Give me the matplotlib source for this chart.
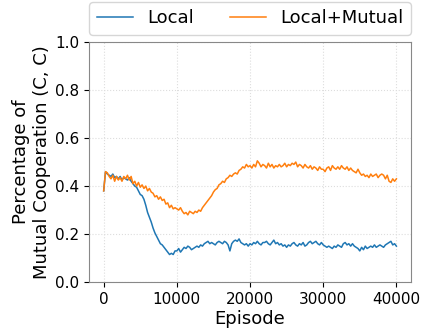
import numpy as np
import matplotlib
matplotlib.use("Agg")
import matplotlib.pyplot as plt

EPISODES = np.arange(0, 40001, 250)

LOCAL = [
    0.38, 0.46, 0.45, 0.445, 0.44, 0.45, 0.435, 0.44,
    0.43, 0.44, 0.425, 0.435, 0.43, 0.425, 0.435, 0.42,
    0.41, 0.40, 0.395, 0.38, 0.365, 0.36, 0.345, 0.32,
    0.29, 0.27, 0.25, 0.225, 0.205, 0.19, 0.175, 0.16,
    0.155, 0.145, 0.135, 0.125, 0.115, 0.12, 0.115, 0.13,
    0.13, 0.14, 0.125, 0.135, 0.145, 0.14, 0.15, 0.145,
    0.135, 0.14, 0.145, 0.15, 0.145, 0.155, 0.15, 0.16,
    0.165, 0.17, 0.16, 0.165, 0.16, 0.155, 0.165, 0.17,
    0.165, 0.16, 0.17, 0.165, 0.155, 0.13, 0.16, 0.17,
    0.175, 0.17, 0.18, 0.165, 0.16, 0.155, 0.16, 0.15,
    0.16, 0.155, 0.165, 0.16, 0.17, 0.16, 0.155, 0.165,
    0.165, 0.17, 0.16, 0.155, 0.165, 0.175, 0.16, 0.165,
    0.155, 0.16, 0.15, 0.155, 0.145, 0.155, 0.15, 0.16,
    0.165, 0.155, 0.15, 0.16, 0.155, 0.165, 0.15, 0.155,
    0.165, 0.17, 0.16, 0.165, 0.17, 0.16, 0.155, 0.165,
    0.155, 0.15, 0.145, 0.15, 0.145, 0.14, 0.15, 0.145,
    0.155, 0.15, 0.145, 0.16, 0.165, 0.155, 0.16, 0.15,
    0.16, 0.15, 0.145, 0.14, 0.13, 0.145, 0.135, 0.15,
    0.14, 0.145, 0.15, 0.145, 0.155, 0.145, 0.15, 0.155,
    0.15, 0.145, 0.155, 0.16, 0.165, 0.17, 0.155, 0.16,
    0.15,
]

LOCAL_MUTUAL = [
    0.38, 0.46, 0.455, 0.44, 0.43, 0.445, 0.42, 0.44,
    0.425, 0.435, 0.42, 0.44, 0.43, 0.445, 0.425, 0.44,
    0.41, 0.42, 0.40, 0.415, 0.395, 0.405, 0.39, 0.40,
    0.38, 0.39, 0.375, 0.37, 0.355, 0.36, 0.345, 0.355,
    0.34, 0.345, 0.325, 0.33, 0.31, 0.32, 0.305, 0.31,
    0.305, 0.30, 0.31, 0.295, 0.285, 0.29, 0.28, 0.295,
    0.29, 0.285, 0.295, 0.29, 0.30, 0.295, 0.31, 0.32,
    0.33, 0.34, 0.35, 0.36, 0.375, 0.385, 0.39, 0.405,
    0.41, 0.42, 0.415, 0.43, 0.435, 0.445, 0.44, 0.45,
    0.455, 0.45, 0.465, 0.47, 0.48, 0.475, 0.49, 0.48,
    0.485, 0.475, 0.49, 0.48, 0.505, 0.495, 0.48, 0.49,
    0.485, 0.475, 0.495, 0.48, 0.49, 0.475, 0.485, 0.48,
    0.49, 0.48, 0.485, 0.495, 0.48, 0.49, 0.485, 0.495,
    0.49, 0.50, 0.48, 0.49, 0.485, 0.475, 0.49, 0.48,
    0.475, 0.485, 0.47, 0.48, 0.475, 0.465, 0.48, 0.47,
    0.47, 0.46, 0.475, 0.48, 0.465, 0.485, 0.475, 0.47,
    0.48, 0.47, 0.485, 0.475, 0.47, 0.48, 0.465, 0.475,
    0.465, 0.46, 0.455, 0.47, 0.455, 0.445, 0.45, 0.44,
    0.445, 0.435, 0.45, 0.44, 0.445, 0.45, 0.435, 0.445,
    0.45, 0.445, 0.43, 0.445, 0.42, 0.415, 0.43, 0.42,
    0.43,
]

fig = plt.figure(figsize=(4.22, 3.3), dpi=100)
ax = fig.add_axes([0.211, 0.145, 0.763, 0.728])

ax.plot(EPISODES, LOCAL, color="#1f77b4", linewidth=1.1, label="Local")
ax.plot(EPISODES, LOCAL_MUTUAL, color="#ff7f0e", linewidth=1.1, label="Local+Mutual")

ax.set_ylim(0, 1.0)
ax.set_xlim(-2000, 42000)
ax.set_xticks([0, 10000, 20000, 30000, 40000])
ax.set_yticks([0.0, 0.2, 0.4, 0.6, 0.8, 1.0])
ax.tick_params(labelsize=11)
ax.grid(True, linestyle=":", color="#dddddd", linewidth=0.8)
for s in ax.spines.values():
    s.set_color("#888888")

ax.set_xlabel("Episode", fontsize=13, labelpad=2)
ax.set_ylabel("Percentage of\nMutual Cooperation (C, C)", fontsize=13, labelpad=3)

ax.legend(loc="lower right", bbox_to_anchor=(1.0, 1.03), ncol=2, fontsize=13,
          borderaxespad=0.0, handlelength=2.0, columnspacing=2.0)

fig.savefig("out.png", dpi=100)
